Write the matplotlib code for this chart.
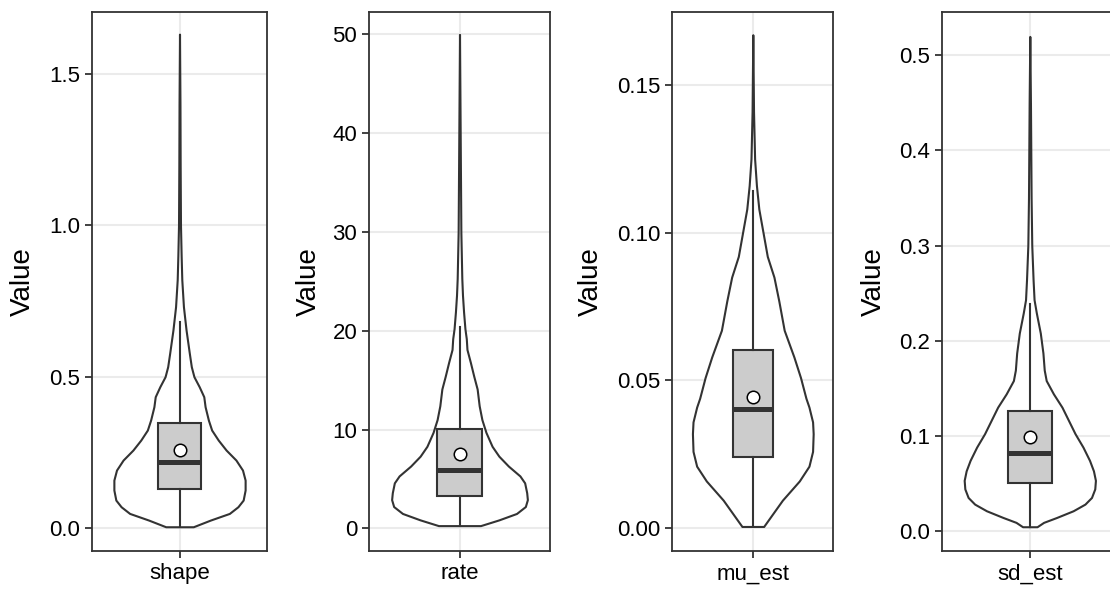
import matplotlib
matplotlib.use("Agg")
import matplotlib.pyplot as plt
from matplotlib.ticker import FormatStrFormatter

plt.rcParams["font.family"] = ["Liberation Sans", "DejaVu Sans"]

PARAMS = ["shape", "rate", "mu_est", "sd_est"]

# violin outlines: value level and relative half-width
SHAPE_LEVELS = [0.005, 0.027, 0.049, 0.071, 0.093, 0.126, 0.159, 0.192, 0.225,
                0.258, 0.291, 0.324, 0.357, 0.401, 0.434, 0.467, 0.50, 0.533,
                0.577, 0.654, 0.731, 0.82, 0.9, 1.0, 1.2, 1.4, 1.63]
SHAPE_WIDTH = [0.21, 0.47, 0.76, 0.89, 0.97, 1.0, 1.0, 0.96, 0.86, 0.71, 0.59,
               0.49, 0.44, 0.39, 0.37, 0.30, 0.22, 0.18, 0.15, 0.10, 0.06,
               0.035, 0.025, 0.015, 0.01, 0.007, 0.0]

RATE_LEVELS = [0.27, 0.85, 1.5, 2.2, 2.9, 3.6, 4.6, 5.3, 6.3, 7.3, 8.3, 9.7,
               11.0, 12.4, 14.1, 15.4, 16.8, 18.1, 19.2, 20.2, 21.9, 23.6,
               25.3, 30.0, 35.0, 40.0, 50.0]
RATE_WIDTH = [0.31, 0.58, 0.84, 0.97, 1.0, 0.99, 0.96, 0.89, 0.72, 0.58, 0.48,
              0.39, 0.33, 0.29, 0.26, 0.21, 0.16, 0.11, 0.10, 0.08, 0.06,
              0.044, 0.034, 0.02, 0.015, 0.01, 0.0]

MU_LEVELS = [0.0006, 0.0095, 0.016, 0.021, 0.026, 0.032, 0.036, 0.041, 0.044,
             0.051, 0.058, 0.067, 0.077, 0.085, 0.092, 0.100, 0.108, 0.116,
             0.125, 0.141, 0.167]
MU_WIDTH = [0.18, 0.49, 0.77, 0.93, 0.99, 1.0, 0.99, 0.93, 0.88, 0.79, 0.68,
            0.52, 0.43, 0.35, 0.24, 0.17, 0.10, 0.06, 0.03, 0.012, 0.0]

SD_LEVELS = [0.0042, 0.0088, 0.014, 0.021, 0.028, 0.035, 0.044, 0.053, 0.063,
             0.074, 0.088, 0.102, 0.116, 0.130, 0.144, 0.158, 0.169, 0.187,
             0.208, 0.229, 0.243, 0.264, 0.30, 0.35, 0.40, 0.45, 0.52]
SD_WIDTH = [0.11, 0.21, 0.41, 0.66, 0.84, 0.94, 0.99, 1.0, 0.97, 0.91, 0.81,
            0.69, 0.59, 0.49, 0.36, 0.25, 0.22, 0.20, 0.16, 0.10, 0.065,
            0.05, 0.03, 0.02, 0.015, 0.01, 0.0]

# box stats: lower whisker, q1, median, q3, upper whisker, mean
SHAPE_BOX = [0.005, 0.129, 0.220, 0.348, 0.68, 0.258]
RATE_BOX = [0.27, 3.22, 5.9, 10.1, 20.4, 7.55]
MU_BOX = [0.0006, 0.0242, 0.0403, 0.0604, 0.114, 0.0445]
SD_BOX = [0.0042, 0.050, 0.082, 0.126, 0.239, 0.099]

SHAPE_TICKS = [0.0, 0.5, 1.0, 1.5]
RATE_TICKS = [0, 10, 20, 30, 40, 50]
MU_TICKS = [0.0, 0.05, 0.10, 0.15]
SD_TICKS = [0.0, 0.1, 0.2, 0.3, 0.4, 0.5]

panels = [
    (SHAPE_LEVELS, SHAPE_WIDTH, SHAPE_BOX, SHAPE_TICKS, "%.1f"),
    (RATE_LEVELS, RATE_WIDTH, RATE_BOX, RATE_TICKS, "%d"),
    (MU_LEVELS, MU_WIDTH, MU_BOX, MU_TICKS, "%.2f"),
    (SD_LEVELS, SD_WIDTH, SD_BOX, SD_TICKS, "%.1f"),
]

# layout in pixels of a 1110x589 canvas
W, H = 1110, 589
PANEL_LEFT = [92, 369, 672.3, 942.3]
PANEL_WIDTH = [175, 181, 161, 175]
PANEL_TOP, PANEL_BOTTOM = 11.7, 550.7
LABEL_X = [23, 308.5, 591, 874]
Y_LIMITS = [(-0.074, 1.704), (-2.27, 52.3), (-0.0076, 0.1748), (-0.021, 0.546)]

DARK = "#333333"
LINE = 1.5

fig = plt.figure(figsize=(W / 100, H / 100), dpi=100, facecolor="white")

for i, (name, (levels, widths, box, ticks, fmt)) in enumerate(zip(PARAMS, panels)):
    ax = fig.add_axes([
        PANEL_LEFT[i] / W,
        (H - PANEL_BOTTOM) / H,
        PANEL_WIDTH[i] / W,
        (PANEL_BOTTOM - PANEL_TOP) / H,
    ])
    half = [0.45 * w for w in widths]
    ax.fill_betweenx(
        levels,
        [1 - h for h in half],
        [1 + h for h in half],
        facecolor="white",
        edgecolor=DARK,
        linewidth=LINE,
        zorder=2,
    )
    lo, q1, med, q3, hi, mean = box
    ax.bxp(
        [{"whislo": lo, "q1": q1, "med": med, "q3": q3, "whishi": hi,
          "mean": mean, "fliers": []}],
        positions=[1],
        widths=0.3,
        patch_artist=True,
        showcaps=False,
        showmeans=True,
        showfliers=False,
        boxprops=dict(facecolor="#CCCCCC", edgecolor=DARK, linewidth=LINE),
        whiskerprops=dict(color=DARK, linewidth=LINE),
        medianprops=dict(color=DARK, linewidth=3.6, solid_capstyle="butt"),
        meanprops=dict(marker="o", markerfacecolor="white",
                       markeredgecolor="black", markersize=9,
                       markeredgewidth=1.1),
        zorder=3,
    )
    ax.set_xlim(0.4, 1.6)
    ax.set_ylim(*Y_LIMITS[i])
    ax.set_xticks([1], [name])
    ax.set_yticks(ticks)
    ax.yaxis.set_major_formatter(FormatStrFormatter(fmt))
    ax.grid(True, color="#EBEBEB", linewidth=1.5)
    ax.set_axisbelow(True)
    for spine in ax.spines.values():
        spine.set_color(DARK)
        spine.set_linewidth(1.3)
    ax.tick_params(axis="both", length=5, width=1.3, color=DARK,
                   labelsize=16, labelcolor="black")
    ax.tick_params(axis="y", pad=3.5)
    ax.tick_params(axis="x", pad=4)
    ax.set_ylabel("Value", fontsize=20)
    ax.yaxis.set_label_coords((LABEL_X[i] - PANEL_LEFT[i]) / PANEL_WIDTH[i], 0.5)
    ax.yaxis.label.set_verticalalignment("center")

fig.savefig("out.png", dpi=100, facecolor="white")
